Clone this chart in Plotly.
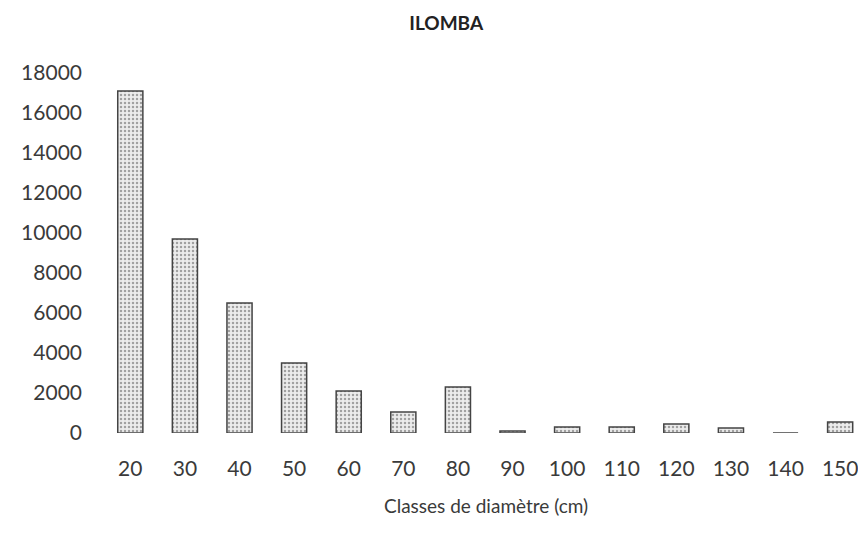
import plotly.graph_objects as go

# Data
classes = ["20", "30", "40", "50", "60", "70", "80", "90", "100", "110", "120", "130", "140", "150"]
effectifs = [17100, 9700, 6500, 3500, 2100, 1050, 2300, 100, 300, 300, 450, 250, 0, 550]
y_ticks = [0, 2000, 4000, 6000, 8000, 10000, 12000, 14000, 16000, 18000]

FONT = "Lato, 'Open Sans', sans-serif"

fig = go.Figure()
fig.add_trace(go.Bar(
    x=classes,
    y=effectifs,
    width=0.46,
    marker=dict(
        color="#d8d8d8",
        line=dict(color="#444444", width=1.5),
        pattern=dict(shape=".", fgcolor="#555555", bgcolor="#ececec", size=4, solidity=0.3),
    ),
    showlegend=False,
))

fig.update_layout(
    width=866,
    height=536,
    paper_bgcolor="white",
    plot_bgcolor="white",
    margin=dict(l=95, r=0, t=65, b=111),
    font=dict(family=FONT, color="#3a3a3a", size=21),
    title=dict(text="<b>ILOMBA</b>", x=0.506, xanchor="center", y=0.972, yanchor="middle",
               font=dict(size=19, color="#222222")),
)
fig.update_xaxes(
    type="category",
    range=[-0.5, 13.62],
    showgrid=False, showline=False, zeroline=False,
    ticks="", ticklen=0,
    ticklabelstandoff=21,
    tickfont=dict(size=21),
)
fig.update_yaxes(
    range=[0, 18000],
    tickvals=y_ticks,
    ticktext=[str(v) for v in y_ticks],
    showgrid=False, showline=False, zeroline=False,
    ticks="", ticklen=0,
    ticklabelstandoff=20,
    tickfont=dict(size=21),
)

# x axis title placed below the tick labels
fig.add_annotation(
    text="Classes de diamètre (cm)",
    xref="paper", yref="paper", x=0.497, y=-0.2,
    xanchor="center", yanchor="middle", showarrow=False,
    font=dict(size=19, color="#3a3a3a"),
)

fig.write_html("out.html")
